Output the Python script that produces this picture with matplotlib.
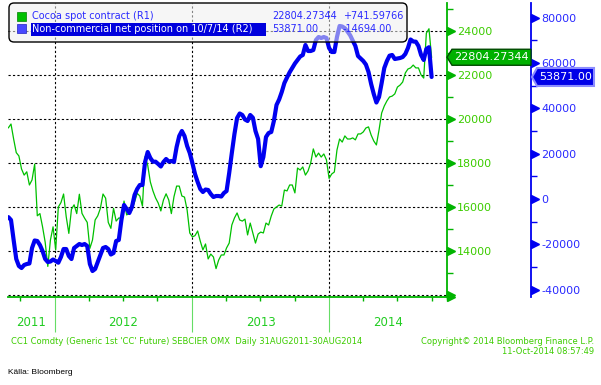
#!/usr/bin/env python3
"""Cocoa spot price vs non-commercial net position, Bloomberg style."""
import matplotlib
matplotlib.use("Agg")
import matplotlib.dates as mdates
import matplotlib.pyplot as plt
import matplotlib.transforms as mtransforms
import numpy as np
import pandas as pd
from matplotlib.patches import FancyBboxPatch, Polygon, Rectangle
from matplotlib.ticker import MultipleLocator, NullFormatter

# weekly readings, starting 31 Aug 2011
START = "2011-08-31"
COCOA = [
    19600, 19770, 19090, 18470, 18320, 17730, 17450, 17600, 17000, 17230,
    17950, 15600, 15700, 15100, 14400, 13300, 14500, 15100, 14050, 16000,
    16200, 16590, 15560, 14800, 15900, 16100, 15700, 16580, 15710, 15490,
    15300, 14120, 14500, 15410, 15600, 15940, 16590, 16400, 15300, 15030,
    15940, 15360, 15500, 15490, 16270, 15640, 15710, 15860, 16230, 16620,
    16500, 16040, 18290, 17900, 17140, 16730, 16410, 16180, 15820, 16320,
    16600, 16320, 15700, 16470, 16950, 16950, 16500, 16450, 15860, 14820,
    14640, 14700, 14910, 14450, 14050, 14320, 13640, 13860, 13730, 13200,
    13590, 13820, 13820, 14140, 14360, 15180, 15500, 15730, 15410, 15360,
    15450, 14730, 15270, 14820, 14360, 14770, 14860, 14820, 15270, 15180,
    15590, 15910, 16000, 16090, 16040, 16770, 16730, 17000, 17000, 16640,
    17770, 17680, 17820, 17450, 17640, 18000, 18640, 18270, 18450, 18270,
    18410, 18140, 17300, 17500, 17590, 18590, 19090, 18950, 19230, 19090,
    19090, 19140, 19050, 19320, 19320, 19410, 19590, 19640, 19270, 19000,
    18820, 19500, 20270, 20590, 20820, 21000, 21040, 21140, 21450, 21540,
    21680, 22090, 22270, 22320, 22450, 22320, 22320, 22000, 21860, 23900,
    24100, 22804.27344,
]
NET_POS = [
    -8000, -9270, -18100, -26490, -29580, -30460, -29140, -28700, -28480, -21630,
    -18320, -18540, -20310, -22960, -26490, -27810, -27590, -26710, -27370, -28120,
    -25610, -22080, -22080, -25170, -26490, -21630, -20750, -19870, -20310, -19870,
    -20750, -28700, -31790, -30910, -27810, -24720, -21630, -21190, -22080, -24500,
    -23840, -18540, -18100, -9270, -2650, -4420, -6180, -3530, 1770, 4420,
    6180, 6180, 16340, 20750, 18100, 16470, 16470, 15450, 14350, 16340,
    17660, 16560, 16780, 16340, 22960, 27810, 30020, 27810, 23400, 20310,
    15890, 11040, 7510, 4420, 3090, 4190, 3970, 2210, 880, 1320,
    1320, 1100, 2650, 3530, 11480, 20310, 28700, 35760, 37750, 37090,
    35100, 34440, 37090, 35890, 30020, 26490, 14500, 18540, 27370, 29140,
    29580, 34440, 41500, 43930, 47240, 51210, 53640, 55940, 57840, 59820,
    61370, 62910, 63580, 67990, 65340, 65340, 65780, 70200, 71520, 71080,
    71520, 71080, 66670, 64900, 64900, 71520, 76380, 76160, 75410, 73950,
    72320, 69930, 67550, 63130, 62030, 60930, 59380, 56070, 50770, 46360,
    42600, 45030, 51210, 57840, 60930, 63270, 63580, 61810, 62030, 62250,
    62690, 64020, 66670, 70420, 69540, 69450, 67550, 63580, 61370, 66230,
    67000, 53871,
]
COCOA_TICKS = [12000, 14000, 16000, 18000, 20000, 22000, 24000]
COCOA_LABELS = ["", "14000", "16000", "18000", "20000", "22000", "24000"]
NET_TICKS = [-40000, -20000, 0, 20000, 40000, 60000, 80000]
YEARS = [2011, 2012, 2013, 2014]
LEGEND_ROWS = [
    ("Cocoa spot contract (R1)", "22804.27344", "+741.59766"),
    ("Non-commercial net position on 10/7/14 (R2)", "53871.00", "-14694.00"),
]

W, H, DPI = 601, 385, 100
GREEN = "#00b400"
GREEN_LINE = "#00c000"
GREEN_TXT = "#3ccc00"
BLUE = "#0000f0"
BLUE_TXT = "#2a2aff"

plt.rcParams["font.family"] = ["DejaVu Sans"]
plt.rcParams["axes.unicode_minus"] = False


def fx(px):
    return px / W


def fy(py):
    return 1 - py / H


def inch(x, y):
    return x / DPI, (H - y) / DPI


dates = pd.date_range(START, periods=len(COCOA), freq="7D")

fig = plt.figure(figsize=(W / DPI, H / DPI), dpi=DPI)
ax = fig.add_axes([fx(8), fy(297), fx(447) - fx(8), fy(3) - fy(297)])
ax2 = ax.twinx()
ax.yaxis.tick_right()

ax.plot(dates, COCOA, color=GREEN_LINE, lw=0.9, zorder=3)
ax2.plot(dates, NET_POS, color=BLUE, lw=3.0, solid_joinstyle="round",
         solid_capstyle="round", zorder=3)

# spines
for a in (ax, ax2):
    a.spines["left"].set_visible(False)
    a.spines["top"].set_visible(False)
ax2.spines["bottom"].set_visible(False)
ax.spines["right"].set_color(GREEN)
ax.spines["right"].set_linewidth(1.3)
ax.spines["bottom"].set_color(GREEN)
ax.spines["bottom"].set_linewidth(1.3)
ax2.spines["right"].set_position(("outward", 84 * 72 / DPI))
ax2.spines["right"].set_color(BLUE)
ax2.spines["right"].set_linewidth(1.3)

# y axes
ax.set_yticks(COCOA_TICKS, labels=COCOA_LABELS)
ax.yaxis.set_minor_locator(MultipleLocator(1000))
ax.tick_params(axis="y", which="major", length=0, pad=10 * 0.72,
               labelcolor=GREEN_TXT, labelsize=8)
ax.tick_params(axis="y", which="minor", length=4, width=1, color=GREEN,
               direction="out")
ax2.set_yticks(NET_TICKS)
ax2.yaxis.set_minor_locator(MultipleLocator(10000))
ax2.tick_params(axis="y", which="major", length=0, pad=10 * 0.72,
                labelcolor=BLUE_TXT, labelsize=8)
ax2.tick_params(axis="y", which="minor", length=4, width=1, color=BLUE,
                direction="out")

tri_g = mtransforms.offset_copy(ax.get_yaxis_transform(), fig=fig, x=3.2, units="points")
ax.plot([1] * len(COCOA_TICKS), COCOA_TICKS, ls="none", marker=">", ms=5.5,
        color=GREEN, transform=tri_g, clip_on=False)
tri_b = mtransforms.offset_copy(ax2.get_yaxis_transform(), fig=fig,
                                x=84 * 0.72 + 3.2, units="points")
ax2.plot([1] * len(NET_TICKS), NET_TICKS, ls="none", marker=">", ms=5.5,
         color=BLUE, transform=tri_b, clip_on=False)

# x axis
ax.xaxis.set_major_locator(mdates.YearLocator())
ax.xaxis.set_minor_locator(mdates.MonthLocator(bymonth=[4, 7, 10]))
ax.xaxis.set_major_formatter(NullFormatter())
ax.tick_params(axis="x", which="major", length=35 * 0.72, width=0.8,
               color="#66dd66", direction="out")
ax.tick_params(axis="x", which="minor", length=3, width=1, color=GREEN,
               direction="out")
arrow_x = mtransforms.offset_copy(ax.transAxes, fig=fig, x=3.2, units="points")
ax.plot([1], [0], ls="none", marker=">", ms=5.5, color=GREEN,
        transform=arrow_x, clip_on=False)

ax.grid(True, which="major", axis="both", color="black", lw=0.8,
        linestyle=(0, (2, 2)))

x0, x1 = pd.Timestamp("2011-08-30"), pd.Timestamp("2014-11-11")
ax.set_xlim(x0, x1)
ax.set_ylim(11910, 25270)
ax2.set_ylim(-43260, 86530)

for year in YEARS:
    lo = max(pd.Timestamp(f"{year}-01-01"), x0)
    hi = min(pd.Timestamp(f"{year + 1}-01-01"), x1)
    ax.text(lo + (hi - lo) / 2, -26 / 294, str(year), transform=ax.get_xaxis_transform(),
            ha="center", va="center", color="#22cc22", fontsize=8.5)


# last-value tags on the axes
def price_tag(axis, value, text, x_off, width, half_h, face, edge, lw):
    anchor = mtransforms.ScaledTranslation(1, value, axis.get_yaxis_transform())
    tr = fig.dpi_scale_trans + anchor
    verts = np.array([(x_off, 0), (x_off + 5, half_h), (x_off + width, half_h),
                      (x_off + width, -half_h), (x_off + 5, -half_h)]) / DPI
    fig.add_artist(Polygon(verts, closed=True, transform=tr, facecolor=face,
                           edgecolor=edge, lw=lw, zorder=6))
    fig.text((x_off + 7) / DPI, 0, text, transform=tr, ha="left", va="center",
             color="white", fontsize=8, zorder=7)


price_tag(ax, COCOA[-1], f"{COCOA[-1]:.5f}", 0, 84, 8, "#00b000", "#004a00", 1)
price_tag(ax2, NET_POS[-1], f"{NET_POS[-1]:.2f}", 85, 62, 9, "#0000e8", "#8c8cff", 1.5)

# legend box
bx, by = inch(9, 42)
fig.add_artist(FancyBboxPatch((bx, by), 398 / DPI, 39 / DPI,
                              boxstyle="round,pad=0,rounding_size=0.05",
                              transform=fig.dpi_scale_trans,
                              facecolor=(0.94, 0.94, 0.94, 0.55),
                              edgecolor="black", lw=1, zorder=5))
fig.add_artist(Rectangle(inch(17, 20.5), 9 / DPI, 9 / DPI, transform=fig.dpi_scale_trans,
                         facecolor="#00c000", edgecolor="#008000", lw=0.5, zorder=6))
fig.add_artist(Rectangle(inch(17, 33), 9 / DPI, 9 / DPI, transform=fig.dpi_scale_trans,
                         facecolor="#4848ff", edgecolor="#2020c0", lw=0.5, zorder=6))
fig.add_artist(Rectangle(inch(31, 35.5), 235 / DPI, 12 / DPI, transform=fig.dpi_scale_trans,
                         facecolor="#0000dd", edgecolor="none", zorder=6))
for i, (label, val, chg) in enumerate(LEGEND_ROWS):
    yy = fy(16 + i * 13.5)
    fig.text(fx(32), yy, label, va="center", fontsize=7, zorder=7,
             color="white" if i == 1 else BLUE_TXT)
    fig.text(fx(272), yy, val, va="center", fontsize=7, color=BLUE_TXT, zorder=7)
    fig.text(fx(343), yy, chg, va="center", fontsize=7, color=BLUE_TXT, zorder=7)

# footer
fig.text(fx(11), fy(341), "CC1 Comdty (Generic 1st 'CC' Future) SEBCIER OMX  "
         "Daily 31AUG2011-30AUG2014", va="center", fontsize=6, color=GREEN_TXT)
fig.text(fx(594), fy(341), "Copyright\u00a9 2014 Bloomberg Finance L.P.",
         ha="right", va="center", fontsize=6, color=GREEN_TXT)
fig.text(fx(594), fy(352), "11-Oct-2014 08:57:49", ha="right", va="center",
         fontsize=6, color=GREEN_TXT)
fig.text(fx(8), fy(372), "K\u00e4lla: Bloomberg", va="center", fontsize=6,
         family=["Liberation Sans"], color="black")

fig.savefig("out.png", dpi=DPI, facecolor="white")
